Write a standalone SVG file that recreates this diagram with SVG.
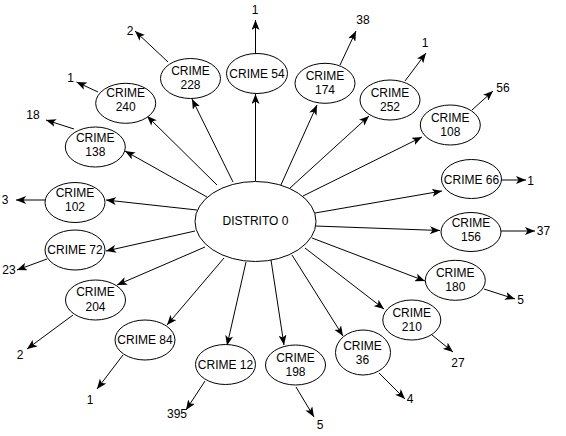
<svg xmlns="http://www.w3.org/2000/svg" width="566" height="436" viewBox="0 0 566 436">
<style>
text{font-family:"Liberation Sans",Arial,Helvetica,sans-serif;font-size:12px;fill:#000;text-anchor:middle}
ellipse{fill:#fff;stroke:#000;stroke-width:1}
.e line{stroke:#000;stroke-width:1;marker-end:url(#arr)}
</style>
<defs>
<marker id="arr" markerUnits="userSpaceOnUse" viewBox="0 0 10 8" refX="10" refY="4" markerWidth="10" markerHeight="8" orient="auto">
<path d="M0,0 L10,4 L0,8 L2.5,4 z" fill="#000"/>
</marker>
</defs>
<rect width="566" height="436" fill="#fff"/>
<g class="e" id="connectors">
<line x1="255.5" y1="181" x2="255.5" y2="94"/>
<line x1="233" y1="182" x2="192" y2="99"/>
<line x1="217" y1="185" x2="147" y2="116"/>
<line x1="207" y1="197" x2="125" y2="151"/>
<line x1="197" y1="210" x2="106" y2="200"/>
<line x1="280" y1="187" x2="317" y2="105"/>
<line x1="290" y1="188" x2="369" y2="116"/>
<line x1="303" y1="196" x2="422" y2="137"/>
<line x1="315" y1="213" x2="442" y2="191"/>
<line x1="315" y1="226" x2="440" y2="230.5"/>
<line x1="312" y1="238" x2="425" y2="281"/>
<line x1="305" y1="248" x2="384" y2="309"/>
<line x1="292" y1="255" x2="343" y2="336"/>
<line x1="271" y1="260" x2="284" y2="345"/>
<line x1="195" y1="231" x2="106" y2="251"/>
<line x1="205" y1="247" x2="117" y2="285"/>
<line x1="224" y1="258" x2="167" y2="325"/>
<line x1="246" y1="262" x2="227" y2="345.5"/>
<line x1="255.5" y1="54" x2="255.5" y2="20"/>
<line x1="168" y1="62" x2="135" y2="31"/>
<line x1="98" y1="92" x2="76.5" y2="82"/>
<line x1="74" y1="129" x2="46" y2="120"/>
<line x1="45" y1="200" x2="16" y2="200"/>
<line x1="340" y1="65" x2="356" y2="31"/>
<line x1="405" y1="81" x2="426" y2="53"/>
<line x1="472" y1="110" x2="493" y2="91"/>
<line x1="501" y1="180" x2="526" y2="180"/>
<line x1="501" y1="231" x2="535" y2="231"/>
<line x1="484" y1="289" x2="515" y2="299"/>
<line x1="432" y1="335" x2="453" y2="352"/>
<line x1="379" y1="373" x2="405" y2="399"/>
<line x1="296" y1="387" x2="314" y2="417"/>
<line x1="47" y1="259" x2="17" y2="270"/>
<line x1="73" y1="315" x2="27" y2="349"/>
<line x1="123" y1="355" x2="97" y2="389"/>
<line x1="205" y1="381" x2="186" y2="410"/>
</g>
<g id="distrito0"><ellipse cx="255.5" cy="221.5" rx="60.5" ry="40"/><text x="255.5" y="225">DISTRITO 0</text></g>
<g id="crime54"><ellipse cx="257" cy="73.5" rx="30.5" ry="20"/><text x="257" y="77.5">CRIME 54</text></g>
<g id="crime228"><ellipse cx="190.5" cy="78.5" rx="30" ry="20"/><text x="190.5" y="75">CRIME</text><text x="190.5" y="89.3">228</text></g>
<g id="crime240"><ellipse cx="125.7" cy="103.3" rx="30" ry="20"/><text x="125.7" y="97">CRIME</text><text x="125.7" y="111.3">240</text></g>
<g id="crime138"><ellipse cx="95.3" cy="147" rx="30" ry="20"/><text x="95.3" y="141.6">CRIME</text><text x="95.3" y="156">138</text></g>
<g id="crime102"><ellipse cx="75" cy="202.5" rx="30" ry="20"/><text x="75" y="196.6">CRIME</text><text x="75" y="211">102</text></g>
<g id="crime72"><ellipse cx="75" cy="250" rx="30" ry="20"/><text x="75" y="253.5">CRIME 72</text></g>
<g id="crime204"><ellipse cx="95.5" cy="300" rx="30" ry="20"/><text x="95.5" y="296">CRIME</text><text x="95.5" y="311">204</text></g>
<g id="crime84"><ellipse cx="145" cy="340" rx="30" ry="20"/><text x="145" y="343.6">CRIME 84</text></g>
<g id="crime12"><ellipse cx="225.5" cy="364.5" rx="30" ry="20"/><text x="225.5" y="368.6">CRIME 12</text></g>
<g id="crime198"><ellipse cx="295.5" cy="365" rx="30" ry="20"/><text x="295.5" y="361.6">CRIME</text><text x="295.5" y="376">198</text></g>
<g id="crime36"><ellipse cx="363" cy="352.5" rx="27.5" ry="22.5"/><text x="362.5" y="350">CRIME</text><text x="362.5" y="364">36</text></g>
<g id="crime210"><ellipse cx="411.8" cy="320" rx="29" ry="20"/><text x="411.8" y="316.6">CRIME</text><text x="411.8" y="330.6">210</text></g>
<g id="crime180"><ellipse cx="455.3" cy="280.3" rx="30" ry="20"/><text x="455.3" y="277">CRIME</text><text x="455.3" y="291">180</text></g>
<g id="crime156"><ellipse cx="471" cy="232" rx="30" ry="19.5"/><text x="471" y="227.3">CRIME</text><text x="471" y="241.3">156</text></g>
<g id="crime66"><ellipse cx="471.5" cy="179" rx="30" ry="19.5"/><text x="471.5" y="184.3">CRIME 66</text></g>
<g id="crime108"><ellipse cx="450.3" cy="125" rx="30" ry="20"/><text x="450.3" y="121.6">CRIME</text><text x="450.3" y="136">108</text></g>
<g id="crime252"><ellipse cx="390" cy="100" rx="30" ry="20"/><text x="390" y="97">CRIME</text><text x="390" y="111">252</text></g>
<g id="crime174"><ellipse cx="325" cy="83.3" rx="30" ry="20"/><text x="325" y="80">CRIME</text><text x="325" y="94.3">174</text></g>
<g id="counts">
<text x="255" y="14.3">1</text>
<text x="130" y="35.3">2</text>
<text x="70.7" y="82">1</text>
<text x="33" y="119.3">18</text>
<text x="5" y="204.3">3</text>
<text x="363" y="24.3">38</text>
<text x="425" y="47.3">1</text>
<text x="503" y="92.3">56</text>
<text x="530.5" y="185.3">1</text>
<text x="543.5" y="235.3">37</text>
<text x="520.7" y="304">5</text>
<text x="458" y="367">27</text>
<text x="410" y="403.3">4</text>
<text x="320" y="428.6">5</text>
<text x="9" y="274.3">23</text>
<text x="20" y="359.3">2</text>
<text x="90" y="404.3">1</text>
<text x="177" y="418.3">395</text>
</g>
</svg>
